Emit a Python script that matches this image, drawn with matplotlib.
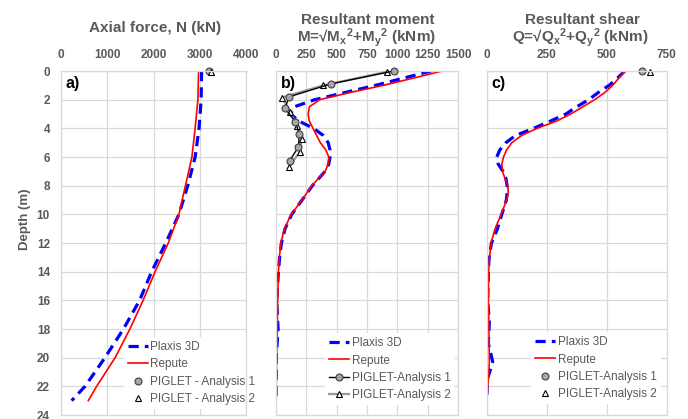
import matplotlib.pyplot as plt

plt.rcParams['font.family'] = ['Liberation Sans', 'DejaVu Sans']
plt.rcParams['mathtext.fontset'] = 'custom'
plt.rcParams['mathtext.rm'] = 'Liberation Sans:bold'
plt.rcParams['mathtext.bf'] = 'Liberation Sans:bold'
plt.rcParams['mathtext.default'] = 'rm'

# ---- data ----
# a) axial force
depth_a = [0, 2, 4, 6, 8, 10, 12, 14, 16, 18, 20, 22, 23]
plaxis_N = [3040, 3030, 2985, 2900, 2740, 2550, 2265, 1960, 1700, 1350, 950, 520, 230]
repute_N = [2975, 2960, 2900, 2830, 2690, 2550, 2320, 2035, 1775, 1490, 1170, 770, 590]
piglet1_N_depth, piglet1_N = [0.0], [3190]
piglet2_N_depth, piglet2_N = [0.1], [3250]

# b) resultant moment
depth_b = [0, 0.5, 1.0, 1.5, 2.0, 2.5, 3.0, 3.5, 4.0, 4.5, 5.0, 5.5, 6.0, 6.5, 7.0,
           8.0, 9.0, 10.0, 11.0, 12.0, 13.0, 14.0, 16.0, 18.0, 20.0, 23.0]
plaxis_M = [1280, 1050, 820, 570, 320, 150, 120, 190, 310, 390, 430, 445, 445, 435, 405,
            300, 215, 130, 75, 45, 30, 20, 6, 17, 2, 0]
repute_M = [1370, 1130, 885, 610, 360, 275, 265, 275, 305, 335, 365, 410, 435, 430, 405,
            295, 215, 125, 70, 40, 28, 20, 14, 10, 5, 0]
piglet1_M_depth = [0.0, 0.9, 1.8, 2.6, 3.55, 4.4, 5.3, 6.25]
piglet1_M = [970, 453, 108, 74, 160, 192, 185, 113]
piglet2_M_depth = [0.05, 1.0, 1.85, 2.85, 3.85, 4.75, 5.65, 6.7]
piglet2_M = [915, 390, 50, 118, 172, 212, 196, 106]

# c) resultant shear
depth_c = [0, 0.5, 1.0, 1.5, 2.0, 2.5, 3.0, 3.5, 4.0, 4.5, 5.0, 5.5, 6.0, 6.5, 7.0, 7.5,
           8.0, 8.5, 9.0, 10.0, 11.0, 12.0, 13.0, 14.0, 16.0, 17.5, 19.0, 20.3, 21.5, 23.0]
plaxis_Q = [575, 545, 510, 465, 425, 375, 330, 265, 195, 120, 80, 55, 42, 48, 68, 80,
            85, 85, 82, 63, 45, 20, 10, 7, 4, 11, 7, 25, 3, 0]
repute_Q = [578, 550, 525, 492, 450, 400, 350, 290, 210, 145, 105, 83, 70, 63, 66, 76,
            88, 90, 83, 60, 35, 18, 12, 8, 7, 9, 10, 11, 7, 0]
piglet1_Q_depth, piglet1_Q = [0.0], [646]
piglet2_Q_depth, piglet2_Q = [0.05], [680]

GRAY_TXT = '#595959'
GRID = '#D9D9D9'
W, H = 688, 419


def pos(l, r, t=71, b=415):
    return [l / W, 1 - b / H, (r - l) / W, (b - t) / H]


fig = plt.figure(figsize=(6.88, 4.19), dpi=100)
ax_a = fig.add_axes(pos(61, 246))
ax_b = fig.add_axes(pos(276, 458))
ax_c = fig.add_axes(pos(486.7, 666.7))


def style(ax, xmax, xstep, ylabels):
    ax.set_xlim(0, xmax)
    ax.set_ylim(24, 0)
    ax.set_xticks(range(0, xmax + 1, xstep))
    ax.set_yticks(range(0, 25, 2))
    ax.xaxis.tick_top()
    ax.tick_params(axis='both', length=0, labelsize=8.5, labelcolor=GRAY_TXT)
    ax.tick_params(axis='x', pad=7)
    ax.tick_params(axis='y', pad=8)
    for lab in ax.get_xticklabels() + ax.get_yticklabels():
        lab.set_fontweight('bold')
    if not ylabels:
        ax.set_yticklabels([])
    ax.grid(True, color=GRID, lw=0.9)
    ax.set_axisbelow(True)
    for s in ax.spines.values():
        s.set_color(GRID)
        s.set_linewidth(0.9)


blue_kw = dict(color='#0000FF', lw=2.3, linestyle=(0, (3.2, 1.9)))
red_kw = dict(color='#FF0000', lw=1.2)
circ_kw = dict(marker='o', ms=5, mfc='#A6A6A6', mec='#404040', mew=0.8)
tri_kw = dict(marker='^', ms=5, mfc='white', mec='black', mew=0.8)


def legend(ax, x, y, labels):
    leg = ax.legend(labels=labels, loc='upper left', bbox_to_anchor=(x, y),
                    fontsize=8.5, frameon=True, facecolor='white', edgecolor='none',
                    framealpha=1, fancybox=False, handlelength=1.7, handletextpad=0.2,
                    labelspacing=0.45, borderpad=0.35, borderaxespad=0)
    for t in leg.get_texts():
        t.set_color(GRAY_TXT)
    leg.set_zorder(1.5)


# a)
style(ax_a, 4000, 1000, True)
ax_a.plot(plaxis_N, depth_a, **blue_kw)
ax_a.plot(repute_N, depth_a, **red_kw)
ax_a.plot(piglet1_N, piglet1_N_depth, ls='none', clip_on=False, **circ_kw)
ax_a.plot(piglet2_N, piglet2_N_depth, ls='none', clip_on=False, **tri_kw)
legend(ax_a, 0.34, 0.227, ['Plaxis 3D', 'Repute', 'PIGLET - Analysis 1', 'PIGLET - Analysis 2'])
ax_a.set_ylabel('Depth (m)', fontsize=9.5, fontweight='bold', color=GRAY_TXT)
ax_a.yaxis.set_label_coords(-0.16, 0.57)

# b)
style(ax_b, 1500, 250, False)
ax_b.plot(plaxis_M, depth_b, **blue_kw)
ax_b.plot(repute_M, depth_b, **red_kw)
ax_b.plot(piglet1_M, piglet1_M_depth, color='black', lw=1.0, clip_on=False, zorder=4, **circ_kw)
ax_b.plot(piglet2_M, piglet2_M_depth, color='#9A9A9A', lw=1.6, clip_on=False, zorder=3, **tri_kw)
legend(ax_b, 0.269, 0.238, ['Plaxis 3D', 'Repute', 'PIGLET-Analysis 1', 'PIGLET-Analysis 2'])

# c)
style(ax_c, 750, 250, False)
ax_c.plot(plaxis_Q, depth_c, **blue_kw)
ax_c.plot(repute_Q, depth_c, **red_kw)
ax_c.plot(piglet1_Q, piglet1_Q_depth, ls='none', clip_on=False, **circ_kw)
ax_c.plot(piglet2_Q, piglet2_Q_depth, ls='none', clip_on=False, **tri_kw)
legend(ax_c, 0.246, 0.241, ['Plaxis 3D', 'Repute', 'PIGLET-Analysis 1', 'PIGLET-Analysis 2'])

for ax, lab in [(ax_a, 'a)'), (ax_b, 'b)'), (ax_c, 'c)')]:
    ax.text(0.025, 0.985, lab, transform=ax.transAxes, ha='left', va='top',
            fontsize=11.5, fontweight='bold', color='black')

# titles
tkw = dict(ha='center', va='baseline', fontsize=11, fontweight='bold', color=GRAY_TXT)
fig.text(155.5 / W, 1 - 31.5 / H, 'Axial force, N (kN)', **tkw)
fig.text(368 / W, 1 - 24 / H, 'Resultant moment', **tkw)
fig.text(366 / W, 1 - 41.5 / H, 'M=√M$_{x}$$^{2}$+M$_{y}$$^{2}$ (kNm)', **tkw)
fig.text(582 / W, 1 - 24 / H, 'Resultant shear', **tkw)
fig.text(580 / W, 1 - 41.5 / H, 'Q=√Q$_{x}$$^{2}$+Q$_{y}$$^{2}$ (kNm)', **tkw)

fig.savefig('out.png', dpi=100)
